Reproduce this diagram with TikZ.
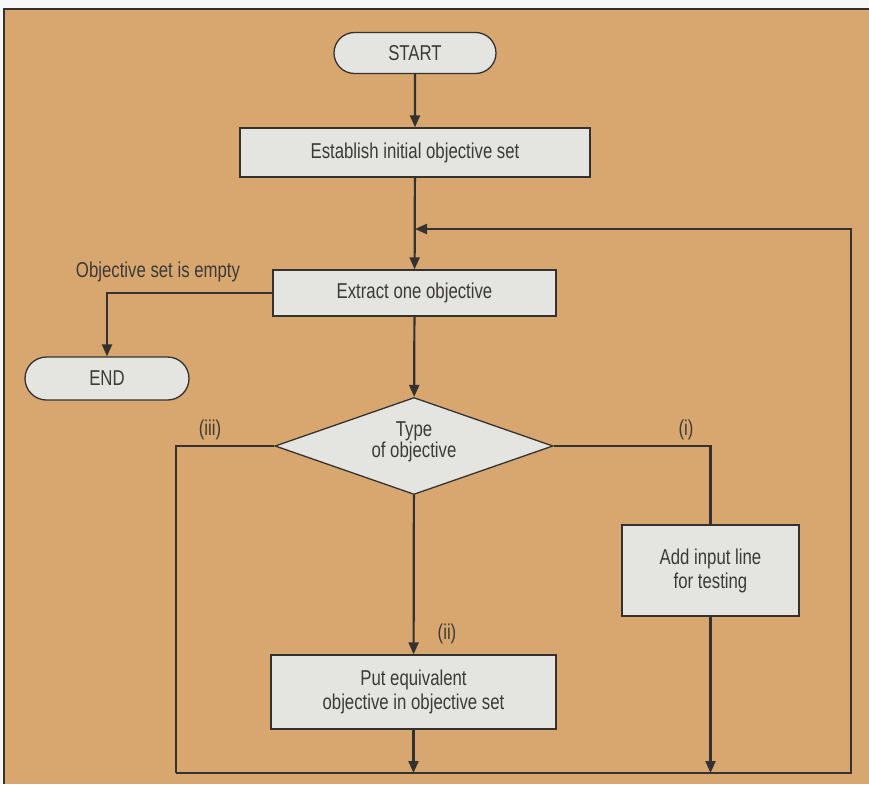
\documentclass[tikz,border=0pt]{standalone}
\usepackage{fontspec}
\setmainfont{Liberation Sans}[FakeStretch=0.78]
\usetikzlibrary{shapes.geometric,shapes.misc,arrows.meta}
\definecolor{tan}{RGB}{216,167,111}
\definecolor{boxfill}{RGB}{228,228,225}
\definecolor{ink}{RGB}{52,50,48}
\definecolor{txt}{RGB}{60,58,56}
\tikzset{
  box/.style={draw=ink,line width=1.3pt,fill=boxfill,inner sep=0pt,align=center,
    text=txt,font=\fontsize{21.5}{24}\selectfont},
  term/.style={box,rounded rectangle},
  dec/.style={box,diamond},
  lbl/.style={text=txt,font=\fontsize{21.5}{24}\selectfont,inner sep=0pt,align=center},
  flow/.style={draw=ink,line width=2.2pt},
  arr/.style={flow,-{Triangle[length=12pt,width=10pt]}},
}
\begin{document}
\begin{tikzpicture}[x=1pt,y=-1pt]
\useasboundingbox (0,0) rectangle (869,784);
\fill[white!94!gray] (0,0) rectangle (869,784);
\fill[tan] (4,9) rectangle (869,784);
\draw[ink,line width=2.5pt] (869,9) -- (4,9) -- (4,784);

\node[term,minimum width=162pt,minimum height=41pt] (start) at (415,53) {START};
\node[box,minimum width=350pt,minimum height=49pt] (est) at (415,152.5) {Establish initial objective set};
\node[box,minimum width=283pt,minimum height=46pt] (ext) at (414.5,293) {Extract one objective};
\node[term,minimum width=164pt,minimum height=43pt] (end) at (107,378.5) {END};
\node[dec,minimum width=278pt,minimum height=97pt] (dia) at (414,446) {};
\node[lbl] (diatext) at (414,442) {Type\\[-3pt]of objective};
\node[box,minimum width=177pt,minimum height=91pt] (add) at (710.5,570.5) {Add input line\\for testing};
\node[box,minimum width=285pt,minimum height=74pt] (put) at (413.5,692) {Put equivalent\\objective in objective set};

\node[lbl] (empty) at (158,272) {Objective set is empty};
\node[lbl] (l3) at (210,430) {(iii)};
\node[lbl] (l1) at (686,430) {(i)};
\node[lbl] (l2) at (447,634) {(ii)};

\coordinate (jn) at (415,229);
\coordinate (tr) at (851,229);
\coordinate (br) at (851,773);
\coordinate (bl) at (176,773);

\draw[arr] (start) -- (est);
\draw[arr] (est) -- (ext);
\draw[arr] (ext.west) -| (end.north);
\draw[arr] (ext) -- (dia);
\draw[flow] (dia.west) -| (bl);
\draw[flow] (dia.east) -| (add.north);
\draw[arr] (dia) -- (put);
\draw[arr] (add.south) -- (add.south |- bl);
\draw[arr] (put.south) -- (put.south |- bl);
\draw[arr] (bl) -- (br) -- (tr) -- (jn);
\end{tikzpicture}
\end{document}
